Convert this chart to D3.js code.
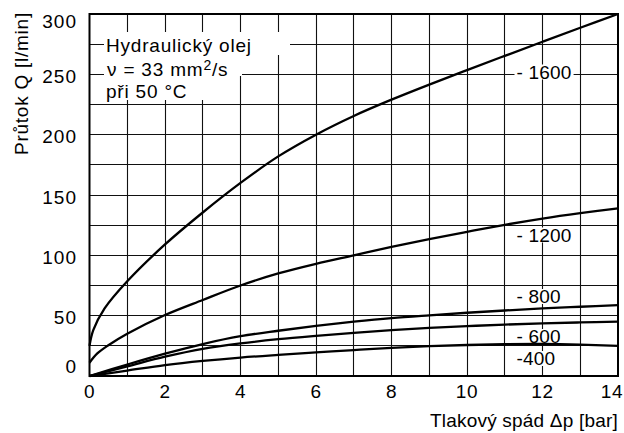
<!DOCTYPE html>
<html>
<head>
<meta charset="utf-8">
<script src="https://cdn.jsdelivr.net/npm/d3@7"></script>
<style>
  body { margin: 0; background: #fff; }
  svg text { font-family: "Liberation Sans", Arial, Helvetica, sans-serif; fill: #000; }
</style>
</head>
<body>
<svg id="chart" width="624" height="433"></svg>
<script>
// Pressure drop Δp [bar] sample points
const dp = [0, 1, 2, 3, 4, 5, 6, 7, 8, 9, 10, 11, 12, 13, 14];
const dp1600 = [0, 0.1, 0.4, 1, 2, 3, 4, 5, 6, 7, 8, 9, 10, 11, 12, 13, 14];
const dp1200 = [0, 0.2, 0.5, 1, 2, 3, 4, 5, 6, 7, 8, 9, 10, 11, 12, 13, 14];

// Flow Q [l/min] per size
const q1600 = [25, 38, 56, 78.5, 109, 135.5, 160, 182, 200, 215.5, 229, 241.5, 253.5, 265.3, 277, 288.6, 300];
const q1200 = [11, 18.5, 25.5, 35, 50.5, 63, 75, 85, 93, 100, 107, 113.5, 119.5, 125.3, 130.5, 135, 139];
const q800  = [0, 9.5, 18.5, 26.5, 33, 37.5, 41.5, 45, 48, 50.3, 52.4, 54.3, 56, 57.4, 58.7];
const q600  = [0, 8, 16, 22.5, 27, 30.5, 33.3, 35.8, 38, 39.8, 41.3, 42.6, 43.6, 44.4, 45];
const q400  = [0, 4.5, 9, 12.5, 15.3, 17.5, 19.5, 21.5, 23.3, 24.7, 25.7, 26.3, 26.5, 26, 25];

const seriesNames = ["- 1600", "- 1200", "- 800", "- 600", "-400"];
const xTicks = [0, 2, 4, 6, 8, 10, 12, 14];
const yTicks = [0, 50, 100, 150, 200, 250, 300];
const legendLines = ["Hydraulický olej", "ν = 33 mm", "při 50 °C"];

const series = [
  { name: seriesNames[0], x: dp1600, y: q1600, labelY: 78.5 },
  { name: seriesNames[1], x: dp1200, y: q1200, labelY: 241.5 },
  { name: seriesNames[2], x: dp, y: q800, labelY: 303 },
  { name: seriesNames[3], x: dp, y: q600, labelY: 343 },
  { name: seriesNames[4], x: dp, y: q400, labelY: 365 }
];

const svg = d3.select("#chart");
const plotL = 89.5, plotR = 618, plotT = 14, plotB = 376;
const x = d3.scaleLinear().domain([0, 14]).range([plotL, plotR]);
const y = d3.scaleLinear().domain([0, 300]).range([plotB, plotT]);
const FS = 19;
const crisp = v => Math.round(v - 0.5) + 0.5;

// horizontal grid every 25 l/min
svg.append("g").selectAll("line").data(d3.range(25, 300, 25)).join("line")
  .attr("x1", plotL).attr("x2", plotR)
  .attr("y1", d => crisp(y(d))).attr("y2", d => crisp(y(d)))
  .attr("stroke", "#111").attr("stroke-width", 1.1);

// curve labels (white backing breaks the horizontal grid)
const labelG = svg.append("g");
const labelTexts = series.map(s => labelG.append("text")
  .attr("x", 516.5).attr("y", s.labelY)
  .attr("font-size", FS).attr("letter-spacing", 0.2).text(s.name));
labelTexts.forEach(t => {
  const b = t.node().getBBox();
  labelG.insert("rect", "text")
    .attr("x", b.x - 2).attr("y", b.y + 3)
    .attr("width", b.width + 4).attr("height", b.height - 6)
    .attr("fill", "#fff");
});

// vertical grid every 1 bar
svg.append("g").selectAll("line").data(d3.range(1, 14)).join("line")
  .attr("x1", d => crisp(x(d))).attr("x2", d => crisp(x(d)))
  .attr("y1", plotT).attr("y2", plotB)
  .attr("stroke", "#111").attr("stroke-width", 1.1);

// legend box backing
const legendBg = svg.append("g").attr("fill", "#fff");
legendBg.append("rect").attr("x", 104).attr("y", 32).attr("width", 186).attr("height", 23);
legendBg.append("rect").attr("x", 104).attr("y", 55).attr("width", 138).attr("height", 21);
legendBg.append("rect").attr("x", 104).attr("y", 76).attr("width", 106).attr("height", 24);

// keep label text above the grid
labelG.raise();

// curves
const line = d3.line().curve(d3.curveCatmullRom.alpha(0.5));
svg.append("g").selectAll("path").data(series).join("path")
  .attr("d", s => line(s.x.map((v, i) => [x(v), y(s.y[i])])))
  .attr("fill", "none").attr("stroke", "#000").attr("stroke-width", 2.3)
  .attr("stroke-linejoin", "round");

// frame
svg.append("rect")
  .attr("x", plotL).attr("y", plotT).attr("width", plotR - plotL).attr("height", plotB - plotT)
  .attr("fill", "none").attr("stroke", "#000").attr("stroke-width", 2);

// legend text
const lg = svg.append("g").attr("font-size", FS).attr("letter-spacing", 0.8);
lg.append("text").attr("x", 106).attr("y", 52).text(legendLines[0]);
const l2 = lg.append("text").attr("x", 107).attr("y", 76).text(legendLines[1]);
l2.append("tspan").attr("font-size", 14).attr("dy", -6).text("2");
l2.append("tspan").attr("dy", 6).text("/s");
lg.append("text").attr("x", 106).attr("y", 98).text(legendLines[2]);

// y tick labels (end labels pulled inside)
svg.append("g").selectAll("text").data(yTicks).join("text")
  .attr("x", 77).attr("text-anchor", "end").attr("font-size", FS).attr("letter-spacing", 1)
  .attr("y", d => y(d) + 7 + (d === 300 ? 7 : d === 0 ? -10 : 1.5))
  .text(d => d);

// x tick labels
svg.append("g").selectAll("text").data(xTicks).join("text")
  .attr("x", d => x(d) + (d === 14 ? -6 : 0)).attr("y", 398)
  .attr("text-anchor", "middle").attr("font-size", FS).attr("letter-spacing", 0.6)
  .text(d => d);

// axis titles
svg.append("text").attr("x", 618).attr("y", 427).attr("text-anchor", "end")
  .attr("font-size", FS).attr("letter-spacing", 0.2).text("Tlakový spád Δp [bar]");
svg.append("text").attr("transform", "translate(28,155) rotate(-90)")
  .attr("font-size", FS).attr("letter-spacing", 0.75).text("Průtok Q [l/min]");
</script>
</body>
</html>
